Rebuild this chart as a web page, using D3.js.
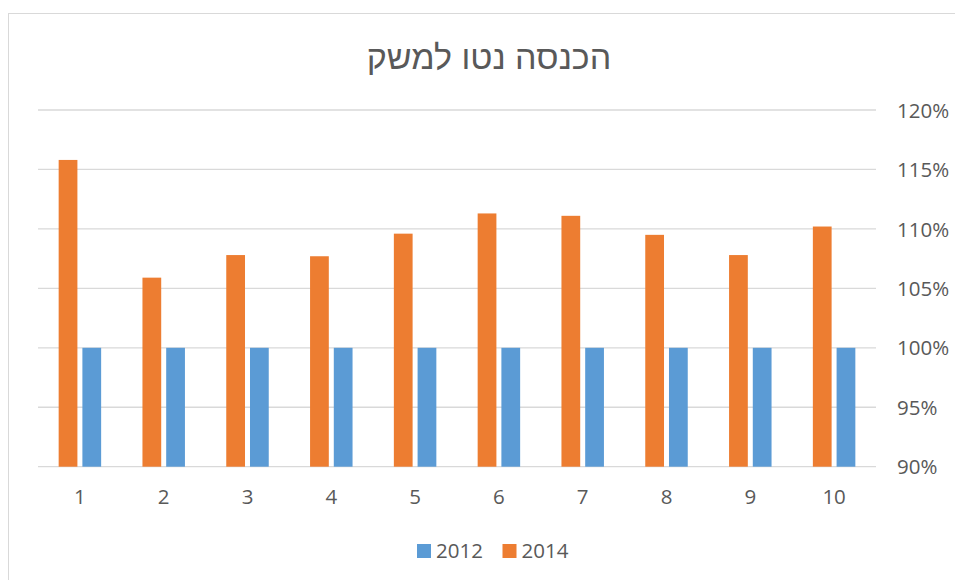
<!DOCTYPE html>
<html>
<head>
<meta charset="utf-8">
<script src="https://cdn.jsdelivr.net/npm/d3@7"></script>
<style>
  html, body { margin: 0; padding: 0; background: #fff; }
  svg { display: block; }
</style>
</head>
<body>
<svg id="chart" width="955" height="580"></svg>
<script>
const title = "הכנסה נטו למשק";
const categories = ["1","2","3","4","5","6","7","8","9","10"];
const seriesNames = ["2012", "2014"];
const values2012 = [1.00, 1.00, 1.00, 1.00, 1.00, 1.00, 1.00, 1.00, 1.00, 1.00];
const values2014 = [1.158, 1.059, 1.078, 1.077, 1.096, 1.113, 1.111, 1.095, 1.078, 1.102];
const yTicks = [0.90, 0.95, 1.00, 1.05, 1.10, 1.15, 1.20];
const colors = { "2012": "#5b9bd5", "2014": "#ed7d31" };

const svg = d3.select("#chart");
const font = "'Open Sans', 'Liberation Sans', sans-serif";
const textColor = "#595959";
const labelSize = "20.5px";

// chart border
svg.append("rect")
  .attr("x", 8.5).attr("y", 13.5)
  .attr("width", 960).attr("height", 580)
  .attr("fill", "none").attr("stroke", "#d9d9d9").attr("stroke-width", 1);

const plotLeft = 38, plotRight = 876, plotTop = 110, plotBottom = 466.7;

const x = d3.scaleBand().domain(categories).range([plotLeft, plotRight])
  .paddingInner(0.493).paddingOuter(0.2465);
const order = ["2014", "2012"];
const xi = d3.scaleBand().domain(order).range([0, x.bandwidth()]).paddingInner(0.21);
const y = d3.scaleLinear().domain([0.9, 1.2]).range([plotBottom, plotTop]);

// gridlines
svg.append("g").selectAll("line").data(yTicks).join("line")
  .attr("x1", plotLeft).attr("x2", plotRight)
  .attr("y1", d => y(d)).attr("y2", d => y(d))
  .attr("stroke", "#d9d9d9").attr("stroke-width", 1.3);

// y axis on right
const yAxis = d3.axisRight(y).tickValues(yTicks).tickFormat(d3.format(".0%")).tickSize(0).tickPadding(0);
const gy = svg.append("g").attr("transform", `translate(897,0)`).call(yAxis);
gy.select(".domain").remove();
gy.selectAll("text").attr("fill", textColor).style("font-family", font).style("font-size", labelSize)
  .attr("dy", "0.35em");

// x axis labels
const xAxis = d3.axisBottom(x).tickSize(0).tickPadding(0);
const gx = svg.append("g").attr("transform", `translate(0,${plotBottom + 23})`).call(xAxis);
gx.select(".domain").remove();
gx.selectAll("text").attr("fill", textColor).style("font-family", font).style("font-size", labelSize)
  .attr("dy", "0.71em");

// bars
const data = categories.map((c, i) => ({ c, "2012": values2012[i], "2014": values2014[i] }));
const groups = svg.append("g").selectAll("g").data(data).join("g")
  .attr("transform", d => `translate(${x(d.c)},0)`);
groups.selectAll("rect").data(d => order.map(k => ({ k, v: d[k] }))).join("rect")
  .attr("x", d => xi(d.k))
  .attr("width", xi.bandwidth())
  .attr("y", d => y(d.v))
  .attr("height", d => plotBottom - y(d.v))
  .attr("fill", d => colors[d.k]);

// title
svg.append("text")
  .attr("x", 489).attr("y", 69)
  .attr("text-anchor", "middle")
  .attr("fill", textColor)
  .style("font-family", "'Liberation Sans', 'DejaVu Sans', sans-serif")
  .style("font-size", "34px")
  .text(title);

// legend
const legendItems = [{ k: "2012", x: 417 }, { k: "2014", x: 502.5 }];
const lg = svg.append("g").selectAll("g").data(legendItems).join("g")
  .attr("transform", d => `translate(${d.x},544)`);
lg.append("rect").attr("width", 14).attr("height", 14).attr("fill", d => colors[d.k]);
lg.append("text").attr("x", 19).attr("y", 14)
  .attr("fill", textColor).style("font-family", font).style("font-size", labelSize)
  .text(d => d.k);
</script>
</body>
</html>
